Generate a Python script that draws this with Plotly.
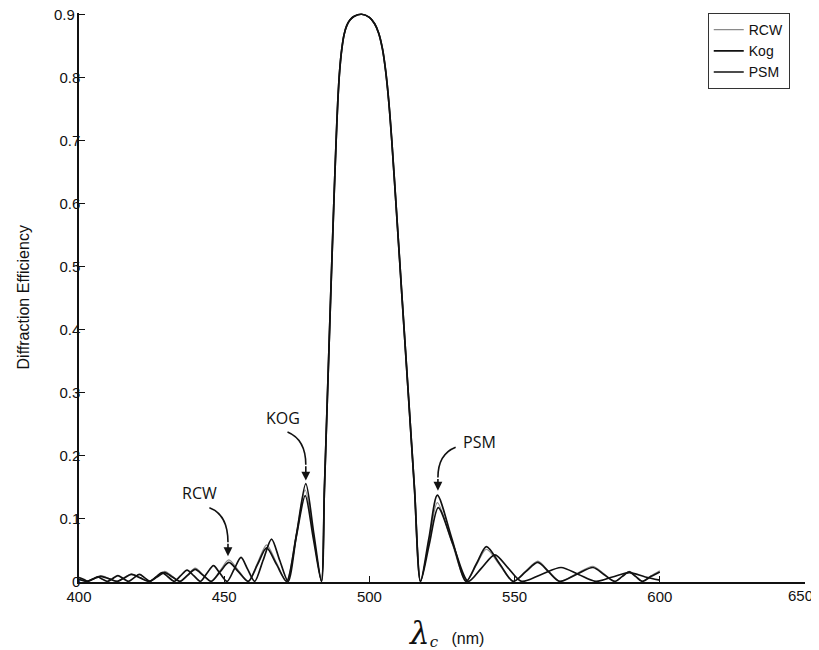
import plotly.graph_objects as go

# ---------------- data ----------------
main_x = [483.5, 484.5, 485.5, 486.65, 487.75, 488.55, 489.1, 489.75, 490.5, 491.3, 492.2, 493.3, 494.8, 497.3,
          500.0, 501.8, 503.2, 504.5, 505.6, 506.7, 507.7, 509.2, 511.3, 513.55, 515.55, 517.6]
main_y = [0.0, 0.145, 0.287, 0.45, 0.60, 0.70, 0.76, 0.81, 0.845, 0.868, 0.882, 0.891, 0.897, 0.9,
          0.895, 0.885, 0.87, 0.845, 0.81, 0.76, 0.70, 0.596, 0.446, 0.287, 0.145, 0.0]

kog_left_x = [400, 401.5, 403, 404.7, 406.4, 408.1, 409.8, 411.6, 413.4, 415.2, 417,
              418.9, 420.8, 422.65, 424.5, 426.55, 428.6, 430.7, 432.8, 435, 437.2, 439.5, 441.8,
              444, 446.3, 448.6, 451, 453.4, 455.8, 458.1, 460.5, 463.4, 466.3, 469.1, 472,
              475, 478.1, 480.8]
kog_left_y = [0.006, 0.0035, 0.0, 0.0035, 0.007, 0.0035, 0.0, 0.0045, 0.009, 0.0045, 0.0,
              0.0055, 0.011, 0.0055, 0.0, 0.007, 0.014, 0.007, 0.0, 0.009, 0.018, 0.009, 0.0,
              0.0125, 0.025, 0.0125, 0.0, 0.019, 0.038, 0.019, 0.0, 0.0335, 0.067, 0.0335, 0.0,
              0.0775, 0.155, 0.0775]
kog_right_x = [520.6, 523.7, 528.8, 534, 538.6, 543.2, 547.8, 552.4,
               559.2, 566, 572, 578, 583.7, 589.5, 595, 600]
kog_right_y = [0.0585, 0.117, 0.0585, 0.0, 0.021, 0.042, 0.021, 0.0,
               0.011, 0.022, 0.011, 0.0, 0.007, 0.014, 0.007, 0.002]

fam_left_x = [400, 401.2, 402.5, 405, 407.5, 410.4, 413.2, 415.6, 418, 421.1, 424.2,
              426.85, 429.5, 432.15, 434.8, 437.4, 440, 442.75, 445.5, 448.55, 451.6, 454.95, 458.3,
              461.45, 464.6, 468.05, 471.5, 474.7, 477.9, 480.7]
rcw_left_y = [0.003, 0.0015, 0.0, 0.0045, 0.009, 0.0045, 0.0, 0.006, 0.012, 0.006, 0.0,
              0.008, 0.016, 0.008, 0.0, 0.0105, 0.021, 0.0105, 0.0, 0.017, 0.034, 0.017, 0.0,
              0.029, 0.058, 0.029, 0.0, 0.0725, 0.145, 0.0725]
psm_left_y = [0.003, 0.0015, 0.0, 0.004, 0.008, 0.004, 0.0, 0.0055, 0.011, 0.0055, 0.0,
              0.007, 0.014, 0.007, 0.0, 0.0095, 0.019, 0.0095, 0.0, 0.015, 0.030, 0.015, 0.0,
              0.0265, 0.053, 0.0265, 0.0, 0.068, 0.136, 0.068]
fam_right_x = [520.5, 523.4, 528.35, 533.3, 536.8, 540.3, 544.9, 549.5,
               553.75, 558, 561.75, 565.5, 571.25, 577, 580.75, 584.5,
               587, 589.5, 591.75, 594, 597, 600]
rcw_right_y = [0.0625, 0.125, 0.0625, 0.0, 0.0255, 0.051, 0.0255, 0.0,
               0.016, 0.032, 0.016, 0.0, 0.012, 0.024, 0.012, 0.0,
               0.008, 0.016, 0.008, 0.0, 0.009, 0.017]
psm_right_y = [0.0685, 0.137, 0.0685, 0.0, 0.0275, 0.055, 0.0275, 0.0,
               0.015, 0.030, 0.015, 0.0, 0.011, 0.022, 0.011, 0.0,
               0.0075, 0.015, 0.0075, 0.0, 0.008, 0.015]

x_ticks = [400, 450, 500, 550, 600, 650]
x_tick_text = ["400", "450", "500", "550", "600", ""]   # last label drawn below, nudged inside the page
x_last_label = "650"
y_ticks = [0, 0.1, 0.2, 0.3, 0.4, 0.5, 0.6, 0.7, 0.8, 0.9]
y_tick_text = ["0", "0.1", "0.2", "0.3", "0.4", "0.5", "0.6", "0.7", "0.8", ""]  # top label drawn below
y_last_label = "0.9"

series = [
    ("RCW", fam_left_x + main_x + fam_right_x, rcw_left_y + main_y + rcw_right_y, "#8a8a8a", 1.2),
    ("Kog", kog_left_x + main_x + kog_right_x, kog_left_y + main_y + kog_right_y, "#111111", 1.7),
    ("PSM", fam_left_x + main_x + fam_right_x, psm_left_y + main_y + psm_right_y, "#111111", 1.7),
]

fig = go.Figure()
for name, xs, ys, col, w in series:
    fig.add_trace(go.Scatter(x=xs, y=ys, mode="lines", name=name,
                             line=dict(color=col, width=w, shape="spline", smoothing=0.8)))

FONT = "Liberation Sans, Arial, sans-serif"
ANN_FONT = "Open Sans, Lato, sans-serif"

# annotation labels and curved arrows
labels = [
    ("RCW", 441.5, 0.140, [(444.9, 0.117), (451.3, 0.106), (451.3, 0.062)], (451.3, 0.040)),
    ("KOG", 470.4, 0.259, [(471.8, 0.237), (478.1, 0.225), (478.1, 0.185)], (478.1, 0.160)),
    ("PSM", 537.8, 0.221, [(529.7, 0.213), (523.6, 0.202), (523.6, 0.165)], (523.6, 0.144)),
]
shapes = []
for txt, tx, ty, pts, tip in labels:
    fig.add_annotation(x=tx, y=ty, text=txt, showarrow=False,
                       font=dict(family=ANN_FONT, size=16, color="#111"))
    (x0, y0), (xc, yc), (x1, y1) = pts
    shapes.append(dict(type="path", xref="x", yref="y",
                       path=f"M {x0} {y0} Q {xc} {yc} {x1} {y1}",
                       line=dict(color="#111", width=1.6)))
    fig.add_annotation(x=tip[0], y=tip[1], ax=x1, ay=y1, axref="x", ayref="y",
                       text="", showarrow=True, arrowhead=2, arrowsize=1.1,
                       arrowwidth=1.6, arrowcolor="#111")

# last x tick label
fig.add_annotation(x=x_ticks[-1], y=0, yref="y", text=x_last_label, showarrow=False,
                   xanchor="center", yanchor="top", xshift=-5, yshift=-4,
                   font=dict(family=FONT, size=15, color="#111"))
# top y tick label
fig.add_annotation(xref="paper", x=0, y=y_ticks[-1], yref="y", text=y_last_label, showarrow=False,
                   xanchor="right", yanchor="middle", xshift=-2,
                   font=dict(family=FONT, size=15, color="#111"))

# x-axis title
fig.add_annotation(xref="paper", yref="paper", x=0.505, y=-0.089, yanchor="middle",
                   showarrow=False,
                   text='<span style="font-family:DejaVu Serif;font-size:31px"><i>λ</i></span>'
                        '<sub><i><span style="font-family:DejaVu Serif;font-size:15px">c</span></i></sub>'
                        '&nbsp;&nbsp;&nbsp;<span style="font-size:16px">(nm)</span>',
                   font=dict(family=FONT, size=16, color="#111"))
# y-axis title
fig.add_annotation(xref="paper", yref="paper", x=-0.0758, y=0.5, xanchor="center",
                   yanchor="middle", textangle=-90,
                   showarrow=False, text="Diffraction Efficiency",
                   font=dict(family=FONT, size=16, color="#111"))

# the page body adds an 8 px offset, so the figure is drawn 8 px smaller
fig.update_layout(
    width=811, height=642,
    margin=dict(l=71, r=14, t=5, b=68),
    paper_bgcolor="white", plot_bgcolor="white",
    font=dict(family=FONT, size=15, color="#111"),
    shapes=shapes,
    showlegend=True,
    legend=dict(x=0.979, y=1.0, xanchor="right", yanchor="top",
                bgcolor="white", bordercolor="#333", borderwidth=1,
                font=dict(family=FONT, size=14, color="#111"),
                tracegroupgap=0, itemwidth=30),
    xaxis=dict(range=[400, 650], tickvals=x_ticks, ticktext=x_tick_text,
               showgrid=False, zeroline=False, showline=True, linecolor="#111", linewidth=1.5,
               ticks="inside", ticklen=6, tickcolor="#111", tickwidth=1.2, automargin=False,
               tickfont=dict(family=FONT, size=15, color="#111"), mirror=False),
    yaxis=dict(range=[-0.001, 0.902], tickvals=y_ticks, ticktext=y_tick_text,
               showgrid=False, zeroline=False, showline=True, linecolor="#111", linewidth=1.5,
               ticks="inside", ticklen=6, tickcolor="#111", tickwidth=1.2, automargin=False,
               ticklabelstandoff=-6,
               tickfont=dict(family=FONT, size=15, color="#111"), mirror=False),
)

fig.write_html("out.html")
